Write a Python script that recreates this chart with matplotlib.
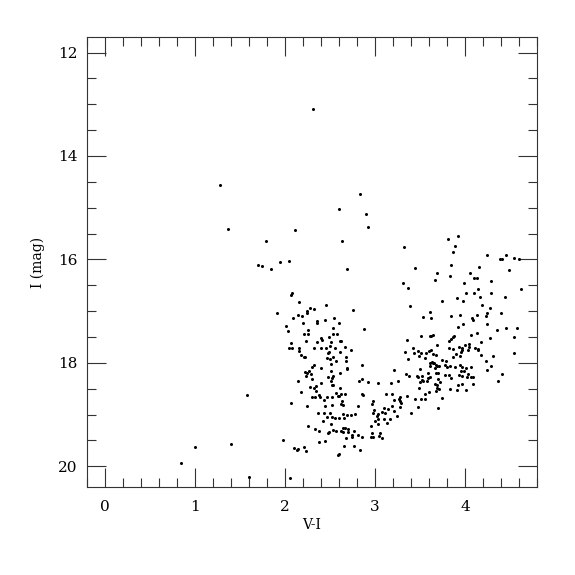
import matplotlib
matplotlib.use('Agg')
import matplotlib.pyplot as plt
from matplotlib.ticker import MultipleLocator

# V-I colour and I magnitude, grouped by region
# sparse stars (bright / blue side)
vi_sparse = [1.28, 1.37, 1.79, 1.70, 1.74, 1.84, 1.95, 2.05, 2.11, 1.58, 1.40, 1.00, 0.84,
             1.60, 1.98, 2.10, 2.13, 2.15, 2.06, 2.31, 2.83, 2.60, 2.90, 2.92, 2.63, 2.69]
i_sparse = [14.56, 15.42, 15.65, 16.10, 16.13, 16.19, 16.04, 16.03, 15.43, 18.63, 19.57, 19.62, 19.94,
            20.21, 19.50, 19.64, 19.68, 19.66, 20.22, 13.09, 14.74, 15.03, 15.13, 15.37, 15.65, 16.19]

# main branch around V-I ~ 2.0-2.9
vi_branch = [2.077, 2.070, 2.155, 1.915, 2.274, 2.244, 2.240, 2.322, 2.452, 2.755, 2.189, 2.144,
             2.092, 2.203, 2.352, 2.352, 2.444, 2.540, 2.603, 2.011, 2.033, 2.252, 2.537, 2.207,
             2.255, 2.877, 2.492, 2.400, 2.407, 2.537, 2.574, 2.233, 2.355, 2.511, 2.607, 2.622,
             2.070, 2.074, 2.044, 2.155, 2.326, 2.400, 2.452, 2.500, 2.555, 2.670, 2.737, 2.489,
             2.155, 2.174, 2.218, 2.207, 2.611, 2.474, 2.463, 2.500, 2.537, 2.566, 2.677, 2.674,
             2.511, 2.689, 2.322, 2.303, 2.403, 2.685, 2.266, 2.222, 2.248, 2.855, 2.292, 2.300,
             2.507, 2.537, 2.518, 2.481, 2.611, 2.229, 2.148, 2.818, 2.859, 2.922, 2.515, 2.400,
             2.518, 2.537, 2.344, 2.607, 2.274, 2.322, 2.340, 2.177, 2.570, 2.622, 2.666, 2.589,
             2.303, 2.329, 2.381, 2.392, 2.466, 2.600, 2.855, 2.866, 2.526, 2.437, 2.637, 2.626,
             2.648, 2.248, 2.444, 2.522, 2.811, 2.066, 2.363, 2.433, 2.500, 2.640, 2.692, 2.733,
             2.774, 2.470, 2.522, 2.559, 2.603, 2.655, 2.426, 2.514, 2.255, 2.333, 2.377, 2.489,
             2.537, 2.570, 2.648, 2.626, 2.640, 2.670, 2.696, 2.696, 2.766, 2.481, 2.674, 2.744,
             2.744, 2.815, 2.215, 2.237, 2.381, 2.448, 2.655, 2.770, 2.833, 2.585, 2.600]
i_branch = [16.641, 16.693, 16.821, 17.032, 16.936, 17.000, 17.026, 16.962, 16.872, 16.981, 17.103, 17.071,
            17.135, 17.238, 17.193, 17.238, 17.167, 17.135, 17.238, 17.295, 17.385, 17.366, 17.334, 17.449,
            17.443, 17.353, 17.500, 17.526, 17.552, 17.436, 17.449, 17.577, 17.597, 17.597, 17.571, 17.571,
            17.609, 17.706, 17.712, 17.712, 17.712, 17.712, 17.706, 17.674, 17.712, 17.699, 17.744, 17.782,
            17.776, 17.847, 17.879, 17.885, 17.782, 17.808, 17.904, 17.923, 17.879, 17.955, 17.891, 17.955,
            18.026, 18.097, 18.039, 18.077, 18.103, 18.116, 18.161, 18.180, 18.193, 18.032, 18.218, 18.308,
            18.148, 18.244, 18.289, 18.276, 18.193, 18.263, 18.347, 18.353, 18.321, 18.366, 18.359, 18.398,
            18.423, 18.436, 18.456, 18.481, 18.475, 18.481, 18.539, 18.565, 18.584, 18.603, 18.603, 18.641,
            18.654, 18.654, 18.629, 18.667, 18.654, 18.635, 18.596, 18.629, 18.667, 18.718, 18.744, 18.795,
            18.821, 18.834, 18.840, 18.821, 18.827, 18.782, 18.962, 18.968, 18.975, 18.994, 19.007, 19.000,
            18.987, 19.052, 19.052, 19.065, 19.065, 19.065, 19.122, 19.180, 19.225, 19.276, 19.321, 19.334,
            19.289, 19.308, 19.263, 19.308, 19.327, 19.263, 19.276, 19.327, 19.308, 19.347, 19.443, 19.436,
            19.398, 19.385, 19.622, 19.706, 19.526, 19.513, 19.609, 19.603, 19.693, 19.789, 19.770]

# faint bridge between the two groups, V-I ~ 2.9-3.5
vi_bridge = [3.359, 3.426, 3.478, 3.515, 3.330, 3.430, 3.567, 3.556, 3.493, 3.367, 3.504, 3.207,
             3.341, 3.378, 3.463, 3.519, 3.481, 3.578, 3.519, 3.496, 3.530, 3.252, 3.178, 3.033,
             3.493, 3.556, 3.278, 3.352, 3.119, 3.185, 3.207, 3.270, 3.274, 3.285, 3.559, 3.444,
             3.507, 2.981, 3.189, 3.278, 3.100, 2.989, 3.148, 3.211, 3.404, 3.474, 3.081, 3.115,
             2.981, 3.037, 3.026, 3.241, 3.170, 3.096, 3.030, 2.959, 2.970, 2.960, 2.980, 3.040,
             3.060, 3.080, 2.855, 2.966, 3.000, 3.033, 3.137]
i_bridge = [17.558, 17.711, 17.776, 17.808, 17.795, 17.814, 17.801, 17.904, 17.859, 17.923, 18.115, 18.141,
            18.218, 18.250, 18.250, 18.256, 18.276, 18.346, 18.340, 18.378, 18.359, 18.359, 18.397, 18.397,
            18.481, 18.602, 18.654, 18.647, 18.602, 18.602, 18.711, 18.692, 18.731, 18.769, 18.705, 18.705,
            18.692, 18.731, 18.833, 18.846, 18.865, 18.904, 18.891, 18.929, 18.974, 18.859, 18.949, 18.974,
            18.974, 18.987, 19.032, 19.026, 19.083, 19.083, 19.179, 19.224, 19.350, 19.430, 19.430, 19.420,
            19.360, 19.450, 19.440, 18.801, 19.115, 19.090, 19.166]

# red group, V-I ~ 3.3-4.6
vi_red = [3.32, 3.44, 3.69, 3.67, 3.31, 3.37, 3.39, 3.61, 3.53, 3.62,
          3.507, 3.607, 3.622, 3.644, 3.689, 3.600, 3.626, 3.644, 3.681, 3.633, 3.615, 3.644,
          3.659, 3.674, 3.607, 3.685, 3.707, 3.670, 3.678, 3.700, 3.585, 3.611, 3.589, 3.704,
          3.667, 3.693, 3.711, 3.685, 3.678, 3.596, 3.704,
          3.815, 3.92, 3.89, 3.87, 3.84, 3.83, 4.25, 4.39, 4.41, 4.455, 4.54, 4.60, 4.485, 4.16,
          4.055, 4.10, 4.13, 4.29, 3.99, 4.62, 4.14, 4.015, 4.10, 4.285, 4.17, 4.44, 3.91, 3.98,
          3.74, 4.19, 4.28, 4.40, 3.84, 3.95, 4.24, 4.23, 4.08, 4.09, 4.13, 3.98, 3.92, 4.24,
          4.46, 4.58, 4.355, 4.13, 4.07, 4.28, 4.18, 4.55, 3.82, 3.87, 3.88, 3.85, 3.995, 4.05,
          4.11, 4.14, 4.15, 3.82, 3.87, 3.93, 3.955, 3.97, 3.97, 4.03, 4.04, 4.54, 4.18, 4.31,
          3.87, 3.90, 3.94, 3.74, 3.79, 3.78, 3.80, 3.83, 3.89, 3.95, 3.97, 4.01, 4.07, 4.23,
          4.285, 4.25, 3.955, 3.985, 4.03, 4.07, 4.41, 3.825, 3.78, 3.84, 3.93, 3.97, 4.025,
          4.085, 3.72, 4.37, 3.97, 4.085, 3.92, 3.83, 3.915, 4.01, 3.75]
i_red = [15.76, 16.16, 16.26, 16.40, 16.46, 16.56, 16.90, 17.02, 17.11, 17.13,
         17.487, 17.487, 17.474, 17.461, 17.647, 17.763, 17.756, 17.833, 17.840, 17.974, 17.994, 17.994,
         18.000, 18.032, 18.058, 18.058, 18.064, 18.096, 18.186, 18.186, 18.186, 18.282, 18.288, 18.320,
         18.410, 18.481, 18.506, 18.436, 18.538, 18.564, 18.878,
         15.60, 15.54, 15.74, 15.86, 16.10, 16.32, 15.92, 15.99, 15.99, 15.91, 15.98, 15.99, 16.20, 16.15,
         16.26, 16.35, 16.35, 16.42, 16.45, 16.58, 16.58, 16.65, 16.65, 16.65, 16.73, 16.72, 16.75, 16.80,
         16.80, 16.88, 16.93, 17.04, 17.09, 17.08, 17.04, 17.10, 17.14, 17.17, 17.07, 17.25, 17.30, 17.24,
         17.32, 17.32, 17.37, 17.42, 17.46, 17.51, 17.60, 17.49, 17.58, 17.49, 17.48, 17.54, 17.65, 17.63,
         17.71, 17.75, 17.73, 17.71, 17.74, 17.70, 17.78, 17.75, 17.71, 17.75, 17.69, 17.81, 17.85, 17.87,
         17.88, 17.83, 17.86, 17.95, 17.96, 18.05, 18.07, 18.06, 18.07, 18.05, 18.08, 18.10, 18.08, 17.96,
         18.06, 18.13, 18.15, 18.15, 18.21, 18.28, 18.21, 18.24, 18.24, 18.29, 18.24, 18.26, 18.27,
         18.28, 18.37, 18.35, 18.40, 18.40, 18.42, 18.50, 18.52, 18.53, 18.67]

vi = vi_sparse + vi_branch + vi_bridge + vi_red
i_mag = i_sparse + i_branch + i_bridge + i_red

plt.rcParams['font.family'] = 'DejaVu Serif'

fig = plt.figure(figsize=(5.75, 5.75), dpi=100)
ax = fig.add_axes([0.1513, 0.153, 0.7826, 0.7826])

ax.plot(vi, i_mag, 'o', color='black', markersize=2.2, markeredgewidth=0)

ax.set_xlim(-0.2, 4.8)
ax.set_ylim(20.4, 11.7)

ax.xaxis.set_major_locator(MultipleLocator(1))
ax.xaxis.set_minor_locator(MultipleLocator(0.2))
ax.yaxis.set_major_locator(MultipleLocator(2))
ax.yaxis.set_minor_locator(MultipleLocator(0.5))

ax.tick_params(which='both', direction='in', top=True, right=True, width=0.8, color='#333333')
ax.tick_params(which='major', length=13.5, labelsize=11)
ax.tick_params(which='minor', length=6.8)
ax.tick_params(axis='x', which='major', pad=9)
ax.tick_params(axis='y', which='major', pad=7)
for sp in ax.spines.values():
    sp.set_linewidth(0.8)
    sp.set_color('#333333')

ax.set_xlabel('V-I', fontsize=10, labelpad=3)
ax.set_ylabel('I (mag)', fontsize=10, labelpad=9)

fig.savefig('out.png', dpi=100)
plt.close(fig)
